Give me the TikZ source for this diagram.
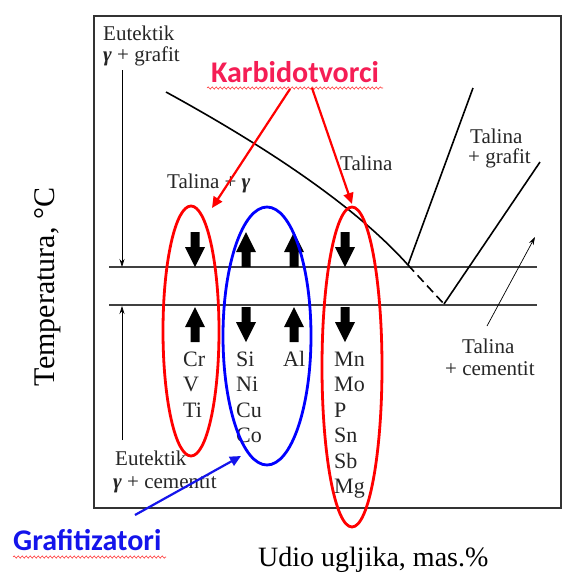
\documentclass[tikz,border=0pt]{standalone}
\usepackage{fontspec}
\setmainfont{Liberation Serif}
\newfontfamily\carlitofont{Carlito}
\usetikzlibrary{arrows.meta,decorations.pathmorphing}
\definecolor{karb}{RGB}{245,30,85}
\definecolor{graf}{RGB}{20,20,235}
\begin{document}
\begin{tikzpicture}[x=1pt,y=-1pt,
  lbl/.style={inner sep=0,anchor=base west,font=\fontsize{21}{24}\selectfont,text=black!85},
  elem/.style={inner sep=0,anchor=base west,font=\fontsize{22}{24}\selectfont,text=black!85},
  phase/.style={line width=1.6pt,black},
  thinarr/.style={line width=0.7pt,-{Stealth[length=8pt,width=5pt]}},
  redarr/.style={line width=2.2pt,red,-{Triangle[length=11pt,width=10pt]}},
  bluearr/.style={line width=2.2pt,graf,-{Triangle[length=11pt,width=10pt]}},
  oval/.style={line width=2.8pt},
  squig/.style={red!80,line width=0.6pt,decorate,decoration={snake,amplitude=1.1pt,segment length=4pt}},
  downblk/.pic={\fill (-4.5,0) -- (4.5,0) -- (4.5,15) -- (10,15) -- (0,35) -- (-10,15) -- (-4.5,15) -- cycle;},
  upblk/.pic={\fill (-4.5,35) -- (4.5,35) -- (4.5,20) -- (10,20) -- (0,0) -- (-10,20) -- (-4.5,20) -- cycle;}
]
\useasboundingbox (0,0) rectangle (564,574);
\fill[white] (0,0) rectangle (564,574);

% frame
\draw[line width=1.6pt,black!80] (94,16) rectangle (561,508);

% coordinates
\coordinate (L1a) at (109,267);
\coordinate (L1b) at (537,267);
\coordinate (L2a) at (109,305);
\coordinate (L2b) at (537,305);
\coordinate (E) at (408,265);
\coordinate (F) at (444,304);
\coordinate (Lq) at (166,92);
\coordinate (G1) at (473,88);
\coordinate (G2) at (540,162);

% horizontal lines
\draw[line width=1.3pt,black!75] (L1a) -- (L1b);
\draw[line width=1.3pt,black!75] (L2a) -- (L2b);

% phase lines
\draw[phase] (Lq) .. controls (250,138) and (350,200) .. (E);
\draw[phase] (E) -- (G1);
\draw[phase,dash pattern=on 9pt off 5pt] (E) -- (F);
\draw[phase] (F) -- (G2);

% thin vertical arrows
\coordinate (V1) at (122,70);
\coordinate (V1e) at (122,267);
\coordinate (V2) at (122,440);
\coordinate (V2e) at (122,306);
\draw[thinarr] (V1) -- (V1e);
\draw[thinarr] (V2) -- (V2e);

% thin slanted arrow
\coordinate (S1) at (487,326);
\coordinate (S2) at (535,237);
\draw[thinarr] (S1) -- (S2);

% labels
\node[lbl] (eut1) at (103,40) {Eutektik};
\node[lbl] (eut1b) at (103,61) {{\bfseries\itshape γ} + grafit};
\node[lbl] (tg) at (167,188) {Talina + {\bfseries\itshape γ}};
\node[lbl] (tal) at (340,170) {Talina};
\node[lbl] (tgr1) at (470,143) {Talina};
\node[lbl] (tgr2) at (468,163) {+ grafit};
\node[lbl] (tc1) at (462,353) {Talina};
\node[lbl] (tc2) at (445,375) {+ cementit};
\node[lbl] (eut2) at (115,465) {Eutektik};
\node[lbl] (eut2b) at (113,488) {{\bfseries\itshape γ} + cementit};

% element labels
\node[elem] (cr) at (183,366) {Cr};
\node[elem] (v) at (183,391.5) {V};
\node[elem] (ti) at (183,417) {Ti};
\node[elem] (si) at (236,366) {Si};
\node[elem] (ni) at (236,391.5) {Ni};
\node[elem] (cu) at (236,417) {Cu};
\node[elem] (co) at (236,442.5) {Co};
\node[elem] (al) at (283,366) {Al};
\node[elem] (mn) at (334,366) {Mn};
\node[elem] (mo) at (334,391.5) {Mo};
\node[elem] (p) at (334,417) {P};
\node[elem] (sn) at (334,442.5) {Sn};
\node[elem] (sb) at (334,468) {Sb};
\node[elem] (mg) at (334,493.5) {Mg};

% block arrows
\pic at (195,232) {downblk};
\pic at (246,232) {upblk};
\pic at (294,232) {upblk};
\pic at (345,232) {downblk};
\pic at (195,307) {upblk};
\pic at (246,307) {downblk};
\pic at (294,307) {upblk};
\pic at (345,307) {downblk};

% ellipses
\draw[oval,red] (191,331) ellipse [x radius=28, y radius=125];
\draw[oval,blue] (267,336) ellipse [x radius=44, y radius=129];
\draw[oval,red] (352,367) ellipse [x radius=30, y radius=160];

% axis labels
\node[inner sep=0,rotate=90,font=\fontsize{30}{32}\selectfont] (temp) at (48,287) {Temperatura, °C};
\node[inner sep=0,anchor=base west,font=\fontsize{28}{30}\selectfont] (udio) at (258,566) {Udio ugljika, mas.\%};

% Karbidotvorci
\node[inner sep=0,anchor=base,font=\carlitofont\bfseries\fontsize{30}{32}\selectfont,text=karb] (karb) at (295,82) {Karbidotvorci};
\draw[squig] (207,88) -- (383,88);
\coordinate (K1) at (290,89);
\coordinate (K1e) at (212,208);
\coordinate (K2) at (312,88);
\coordinate (K2e) at (352,204);
\draw[redarr] (K1) -- (K1e);
\draw[redarr] (K2) -- (K2e);

% Grafitizatori
\node[inner sep=0,anchor=base west,font=\carlitofont\bfseries\fontsize{30}{32}\selectfont,text=graf] (grafn) at (13,550) {Grafitizatori};
\draw[squig] (13,557) -- (166,557);
\coordinate (B1) at (135,515);
\coordinate (B1e) at (241,456);
\draw[bluearr] (B1) -- (B1e);
\end{tikzpicture}
\end{document}
